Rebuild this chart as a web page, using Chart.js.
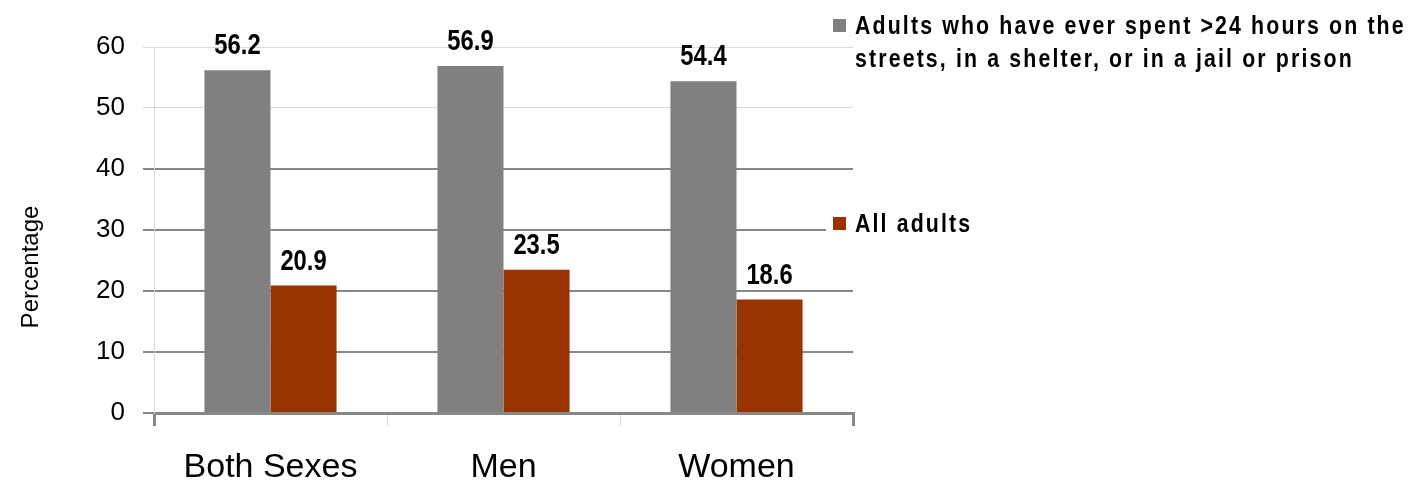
<!DOCTYPE html>
<html>
<head>
<meta charset="utf-8">
<script src="https://cdn.jsdelivr.net/npm/chart.js@4/dist/chart.umd.min.js"></script>
<style>
  html, body { margin: 0; padding: 0; background: #fff; }
  #wrap { width: 1416px; height: 487px; }
</style>
</head>
<body>
<div id="wrap"><canvas id="homelessChart" width="1416" height="487"></canvas></div>
<script>
// data
const categories = ["Both Sexes", "Men", "Women"];
const everHomeless = [56.2, 56.9, 54.4];
const allAdults = [20.9, 23.5, 18.6];
const seriesNames = ["Adults who have ever spent >24 hours on the streets, in a shelter, or in a jail or prison", "All adults"];
const legendLines = [
  ["Adults who have ever spent >24 hours on the", "streets, in a shelter, or in a jail or prison"],
  ["All adults"],
];
const yTitle = "Percentage";

const GRAY = "#808080";
const RUST = "#993300";
const DARK_LINE = "#878787";
const LIGHT_LINE = "#d9d9d9";
const SANS = "'Liberation Sans', Arial, sans-serif";
const SQUEEZE = 0.82; // fake a narrow face, no narrow font installed

// draw text squeezed horizontally around x
function narrowText(ctx, text, x, y) {
  ctx.save();
  ctx.translate(x, y);
  ctx.scale(SQUEEZE, 1);
  ctx.fillText(text, 0, 0);
  ctx.restore();
}

// value labels on top of the bars
const barLabels = {
  id: "barLabels",
  afterDatasetsDraw(chart) {
    const ctx = chart.ctx;
    ctx.save();
    ctx.font = "bold 29px " + SANS;
    ctx.fillStyle = "#000";
    ctx.textAlign = "center";
    ctx.textBaseline = "alphabetic";
    chart.data.datasets.forEach((ds, i) => {
      chart.getDatasetMeta(i).data.forEach((bar, j) => {
        narrowText(ctx, ds.data[j].toFixed(1), bar.x, bar.y - 16);
      });
    });
    ctx.restore();
  },
};

// legend at the right and the y axis title
const sideText = {
  id: "sideText",
  afterDraw(chart) {
    const ctx = chart.ctx;
    const area = chart.chartArea;
    ctx.save();

    // y title
    ctx.font = "24px " + SANS;
    ctx.fillStyle = "#000";
    ctx.textAlign = "center";
    ctx.textBaseline = "middle";
    ctx.translate(31, 267);
    ctx.rotate(-Math.PI / 2);
    ctx.fillText(yTitle, 0, 0);
    ctx.setTransform(1, 0, 0, 1, 0, 0);

    // legend
    const itemTops = [27, 225];
    const boxX = area.right - 20;
    ctx.font = "bold 26px " + SANS;
    ctx.letterSpacing = "2.6px";
    ctx.textAlign = "left";
    ctx.textBaseline = "middle";
    chart.data.datasets.forEach((ds, i) => {
      const y = itemTops[i];
      if (i > 0) {
        ctx.fillStyle = "#fff";
        ctx.fillRect(boxX - 7, y - 15, 200, 30);
      }
      ctx.fillStyle = ds.backgroundColor;
      ctx.fillRect(boxX, y - 8, 13, 13);
      ctx.fillStyle = "#000";
      legendLines[i].forEach((line, k) => {
        narrowText(ctx, line, boxX + 22, y + k * 33);
      });
    });
    ctx.restore();
  },
};

const ctx = document.getElementById("homelessChart").getContext("2d");

const homelessChart = new Chart(ctx, {
  type: "bar",
  data: {
    labels: categories,
    datasets: [
      {
        label: seriesNames[0],
        data: everHomeless,
        backgroundColor: GRAY,
        categoryPercentage: 0.567,
        barPercentage: 1,
      },
      {
        label: seriesNames[1],
        data: allAdults,
        backgroundColor: RUST,
        categoryPercentage: 0.567,
        barPercentage: 1,
      },
    ],
  },
  options: {
    responsive: false,
    animation: false,
    devicePixelRatio: 1,
    layout: { padding: { top: 47, right: 563, left: 0, bottom: 0 } },
    plugins: {
      legend: { display: false },
      tooltip: { enabled: false },
    },
    scales: {
      x: {
        afterFit: (s) => { s.height = 74; },
        border: { color: DARK_LINE, width: 3 },
        grid: {
          drawOnChartArea: false,
          drawTicks: true,
          tickLength: 13,
          color: (c) => (c.index === undefined || c.index === 0 ? DARK_LINE : LIGHT_LINE),
          lineWidth: (c) => (c.index === undefined || c.index === 0 ? 3 : 1),
        },
        ticks: {
          color: "#000",
          padding: 21,
          font: { family: SANS, size: 34 },
        },
      },
      y: {
        min: 0,
        max: 60,
        afterFit: (s) => { s.width = 154; },
        border: { color: LIGHT_LINE, width: 1 },
        grid: {
          tickLength: 11,
          color: (c) => (c.tick && c.tick.value >= 50 ? LIGHT_LINE : DARK_LINE),
          lineWidth: (c) => (c.tick && c.tick.value >= 50 ? 1 : 2),
        },
        ticks: {
          stepSize: 10,
          color: "#000",
          padding: 18,
          font: { family: SANS, size: 26 },
        },
      },
    },
  },
  plugins: [barLabels, sideText],
});
</script>
</body>
</html>
